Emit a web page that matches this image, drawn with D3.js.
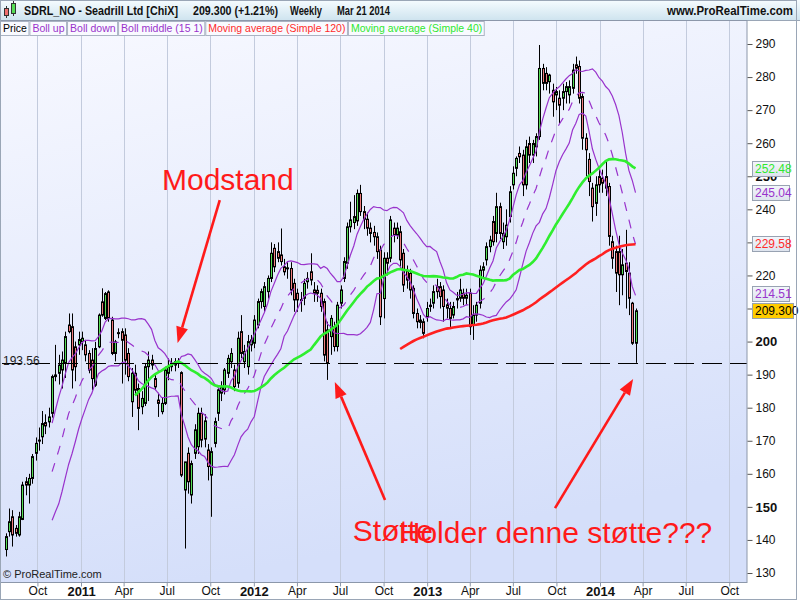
<!DOCTYPE html>
<html>
<head>
<meta charset="utf-8">
<script src="https://cdn.jsdelivr.net/npm/d3@7"></script>
<style>
  body { margin: 0; background: #fff; }
  svg { display: block; font-family: "Liberation Sans", Arial, sans-serif; }
</style>
</head>
<body>
<div id="chart"></div>
<script>
// SDRL_NO weekly candles, week of Jul 26 2010 -> week of Mar 17 2014
const firstWeek = new Date(2010, 6, 26)
const lastWeek = new Date(2014, 2, 17)

const opens = [
  137.1, 142.5, 147, 143.5, 141.5, 146.2, 157.6, 156.6, 158.6, 166.2,
  170, 171.2, 175.5, 175.7, 178.3, 189.4, 190.4, 191.4, 193.4, 205,
  204.5, 198.4, 199, 200, 199, 196.4, 194.4, 186.8, 198.4, 212,
  207, 215, 206.5, 196.4, 202.7, 203, 202, 196.4, 181.8, 190.4,
  185.8, 180.3, 181.3, 192.4, 194.4, 188.8, 182.3, 178.8, 181.3, 190.4,
  193.4, 192.9, 193.9, 190.6, 155.1, 166.2, 153.6, 166.2, 168.2, 178.3,
  170.5, 167.2, 159.6, 169.2, 178.3, 184.4, 185.4, 190.4, 193.9, 191.4,
  187.4, 203, 193.9, 192.4, 199, 199.5, 205, 212.1, 210.6, 215.1,
  219.1, 228.2, 227.2, 226.2, 222.6, 222.1, 222.1, 217.6, 214.6, 212.6,
  213.1, 218.1, 221.1, 215.6, 215.5, 214.6, 212.1, 203.5, 201.5, 204.5,
  198.5, 211.6, 219.1, 223.7, 234.7, 236, 236.5, 244.8, 239.3, 237,
  234.3, 233, 231.7, 227.7, 213, 225.2, 225.2, 234.3, 232.2, 233.2,
  226.7, 221.2, 220.6, 216.1, 208.5, 206.5, 206, 207.5, 210.6, 211.6,
  216.6, 216.6, 215.6, 211.1, 210, 208, 212.6, 213.1, 214.6, 213.1,
  214.6, 205, 208, 211.6, 221.6, 224.7, 228.7, 236.3, 232.7, 240.8,
  230.2, 231.7, 237.8, 247.4, 252.4, 256.9, 256.4, 247.4, 259.9, 256.4,
  258.9, 262, 282.6, 281.1, 278.6, 276, 274.6, 273.6, 273.6, 275.6,
  274.6, 276.6, 283.7, 283.2, 274.1, 261.5, 255.1, 246.4, 241.8, 249.9,
  249.4, 249.9, 246.9, 230.2, 227.2, 227.2, 220.2, 223.7, 220.7, 211.6,
  199.5
]
const highs = [
  142, 149.5, 149, 144.5, 148.5, 157.6, 159, 160, 166, 171,
  174, 179, 178, 180, 190, 199, 196, 197, 203, 208.5,
  208.5, 200, 203, 203, 200.5, 197.4, 198, 199.9, 208.5, 216.1,
  215, 215.5, 207.5, 200.5, 204, 204, 204, 198, 192, 193,
  187.3, 185, 193.4, 197, 196, 190.4, 184.5, 183, 192.4, 194.9,
  195, 195, 195, 191, 163.6, 168, 164, 175, 180, 180,
  178, 169, 168, 177, 186, 188, 192, 196, 198, 193,
  203, 208, 199, 202, 202, 208, 213, 216, 218, 220,
  230, 229.5, 230, 234.2, 225, 224, 224, 219, 216, 215,
  219, 221, 226.7, 218, 217, 216, 213, 206, 208, 206,
  212, 217, 225.5, 236, 242.3, 244.3, 246, 247.4, 241, 239,
  236, 235, 233, 229, 227, 227, 238, 236, 236, 235,
  228, 223, 222, 217, 210, 208, 207, 212, 213, 217,
  219, 218, 217, 213, 212, 212, 215, 219, 216, 216,
  216, 211, 212, 223, 224, 230, 232, 238, 245, 242,
  236, 240, 247, 253, 256, 259, 258, 261, 262, 261,
  263, 289.7, 284, 283, 281, 278, 277, 276, 278, 278.5,
  279, 284, 286.2, 285, 275, 263, 257, 248, 250, 252,
  252, 254.4, 248, 232, 229, 232, 228, 233.8, 224, 212,
  210
]
const lows = [
  135, 141, 138, 141, 141, 146, 153.5, 151, 157, 164,
  167, 169, 172, 174, 177, 188, 187, 185.8, 189, 202.5,
  185.8, 188, 196, 197.4, 194, 190.4, 185.3, 186.3, 198, 207.5,
  206.5, 206, 195.9, 194, 201, 187.3, 190, 188, 177.2, 184,
  173.2, 178, 180.5, 182, 191.5, 185.3, 177.2, 178, 180.8, 188.3,
  191, 191, 192, 159, 137.4, 154, 151, 164.5, 166, 168,
  168, 158, 147, 168, 176, 182, 184, 189, 192, 185,
  186, 195, 192, 190, 197, 198, 204, 210, 209, 213,
  218, 221, 224, 223, 220, 219, 214, 209, 209, 209,
  211, 216, 217, 212, 212, 209, 194, 188.4, 196, 197,
  197, 210, 218, 222, 233, 234, 235, 238, 234, 232,
  230, 229, 225, 205, 207, 220, 224, 230, 231, 222,
  215, 216, 213, 207, 204, 204, 201, 206, 209, 210,
  213, 210, 206, 207, 204, 207, 210, 212, 211, 211,
  202, 200.5, 206, 210, 219, 223, 227, 229, 230, 231,
  228, 229, 236, 246, 250, 254, 244, 246, 254, 254,
  256, 261, 276, 276, 275, 268, 270, 266, 270, 272,
  272, 275, 281, 272, 258, 250, 244, 236.3, 238, 245,
  245, 244, 229, 222, 215, 211, 214, 210, 208, 199,
  193.56
]
const closes = [
  141, 145.5, 141.5, 142, 147, 156.6, 156.6, 158.6, 165.2, 169.2,
  170.2, 175.2, 174.5, 177.2, 189.4, 189.9, 192.9, 194.4, 201.5, 203,
  191.4, 192.4, 200.6, 201, 196, 191.4, 188.8, 197.9, 208, 208,
  214.5, 207, 196.4, 199.9, 202.7, 200.4, 194.4, 189.4, 190.4, 185.3,
  179.8, 182.8, 192.4, 194.4, 192.9, 186.3, 181.3, 181.3, 191.4, 192.4,
  192.4, 193.9, 193.4, 159.6, 163.6, 157.6, 163.1, 173.3, 178.3, 170.2,
  176, 162.2, 166.7, 175.8, 185.4, 186.4, 191.4, 194.9, 196.4, 186.4,
  201, 196.4, 197, 200, 200.5, 206.5, 212.1, 215.1, 216.6, 219.1,
  226.7, 222.6, 225.2, 224.2, 221.1, 222.3, 215.6, 212.6, 212.6, 212.7,
  217.6, 219.1, 218.6, 214.6, 214.6, 210.6, 195.9, 193.4, 207, 198.5,
  211, 215.6, 224.2, 234.7, 236.8, 237.8, 244.8, 239.3, 237, 234.3,
  232.7, 231.7, 227.2, 207.5, 225.2, 223.7, 236.8, 232.2, 234.3, 224.7,
  217.1, 218.6, 215.6, 208.5, 206, 205.8, 202.5, 210, 211, 215.1,
  215.1, 213.6, 210.6, 210.1, 207, 210.6, 213, 215.6, 213.1, 214,
  204.5, 208, 211, 221.6, 222.6, 228.7, 230.7, 230.2, 240.8, 232.7,
  232.7, 235.2, 245.3, 250.9, 255.4, 255.9, 247.4, 258.9, 256.4, 259.9,
  262, 282.6, 278.1, 278.1, 280.6, 272.5, 275.6, 271.5, 275.6, 277.1,
  277.1, 282.1, 282.7, 273.6, 261.5, 258, 248.4, 240.8, 247.4, 247.4,
  247.9, 246.4, 231.8, 225.2, 220.7, 220.2, 223.2, 221.2, 213.1, 199.5,
  209.3
]

const supportLevel = 193.56
const priceTicks = d3.range(130, 291, 10)
// last values shown in the boxes on the right axis
const lastValues = [252.48, 245.04, 229.58, 214.51, 209.3]
const lastLabels = ['252.48', '245.04', '229.58', '214.51', '209.300']
const lastColors = ['#2fe82f', '#9933cc', '#ff2a2a', '#9933cc', '#000']

const legendNames = ['Price', 'Boll up', 'Boll down', 'Boll middle (15 1)', 'Moving average (Simple 120)', 'Moving average (Simple 40)']
const legendColors = ['#000', '#9933cc', '#9933cc', '#9933cc', '#ff2a2a', '#2fe82f']

// red hand drawn notes (date, price)
const arrowTails = [[new Date(2011, 9, 21), 242.8], [new Date(2012, 9, 4), 152.1], [new Date(2013, 8, 28), 149.6]]
const arrowTips = [[new Date(2011, 6, 24), 199.6], [new Date(2012, 5, 20), 187.8], [new Date(2014, 2, 12), 188.7]]
const noteTexts = ['Modstand', 'Støtte', 'Holder denne støtte???']
const notePos = [[new Date(2011, 5, 21), 245.8], [new Date(2012, 6, 28), 139.7], [new Date(2012, 10, 2), 139.1]]

const weeks = d3.timeMonday.range(firstWeek, d3.timeDay.offset(lastWeek, 1))
const candles = weeks.map((d, i) => ({ date: d, o: opens[i], h: highs[i], l: lows[i], c: closes[i] }))

// indicators
function sma(n) {
  return closes.map((c, i) => i < n - 1 ? null : d3.mean(closes.slice(i - n + 1, i + 1)))
}
const mid15 = sma(15)
const sd15 = closes.map((c, i) => {
  if (i < 14) return null
  const w = closes.slice(i - 14, i + 1)
  const m = d3.mean(w)
  return Math.sqrt(d3.mean(w, v => (v - m) * (v - m)))
})
const bollUp = mid15.map((m, i) => m == null ? null : m + sd15[i])
const bollDown = mid15.map((m, i) => m == null ? null : m - sd15[i])
const ma120 = sma(120)
const ma40 = sma(40)

const plotL = 1, plotR = 747, plotT = 21, plotB = 582

const x = d3.scaleTime()
  .domain([new Date(2011, 0, 1), new Date(2014, 0, 1)])
  .range([81, 600])
const y = d3.scaleLinear()
  .domain([130, 290])
  .range([573, 44])

const svg = d3.select('#chart').append('svg')
  .attr('width', 800)
  .attr('height', 600)

const defs = svg.append('defs')
const bg = defs.append('linearGradient').attr('id', 'bg')
  .attr('x1', 0).attr('y1', 0).attr('x2', 0.25).attr('y2', 1)
bg.append('stop').attr('offset', 0).attr('stop-color', '#f8f9ff')
bg.append('stop').attr('offset', 1).attr('stop-color', '#d5dffa')
const hd = defs.append('linearGradient').attr('id', 'hd')
  .attr('x1', 0).attr('y1', 0).attr('x2', 0).attr('y2', 1)
hd.append('stop').attr('offset', 0).attr('stop-color', '#f6fcff')
hd.append('stop').attr('offset', 1).attr('stop-color', '#cfe4ef')
const bx = defs.append('linearGradient').attr('id', 'bx')
  .attr('x1', 0).attr('y1', 0).attr('x2', 0).attr('y2', 1)
bx.append('stop').attr('offset', 0).attr('stop-color', '#f4f6fb')
bx.append('stop').attr('offset', 1).attr('stop-color', '#dde3ee')
defs.append('clipPath').attr('id', 'clip').append('rect')
  .attr('x', plotL).attr('y', plotT).attr('width', plotR - plotL).attr('height', plotB - plotT)

// header
svg.append('rect').attr('x', 0).attr('y', 0).attr('width', 800).attr('height', 20).attr('fill', 'url(#hd)')
svg.append('line').attr('x1', 0).attr('x2', 800).attr('y1', 20.5).attr('y2', 20.5).attr('stroke', '#9aa6b6')
const icon = svg.append('g')
icon.append('line').attr('x1', 6.5).attr('x2', 6.5).attr('y1', 6).attr('y2', 18).attr('stroke', '#333')
icon.append('rect').attr('x', 4.5).attr('y', 8.5).attr('width', 4).attr('height', 7).attr('fill', '#ef6f6f').attr('stroke', '#333')
icon.append('line').attr('x1', 13.5).attr('x2', 13.5).attr('y1', 1).attr('y2', 16).attr('stroke', '#333')
icon.append('rect').attr('x', 11.5).attr('y', 3.5).attr('width', 4).attr('height', 10).attr('fill', '#55dd55').attr('stroke', '#333')

// [text, left, width]
const title = [['SDRL_NO - Seadrill Ltd [ChiX]', 24, 154], ['209.300 (+1.21%)', 193, 85], ['Weekly', 290, 32], ['Mar 21 2014', 337, 53]]
svg.selectAll('text.title').data(title).enter().append('text')
  .attr('x', d => d[1]).attr('y', 15)
  .attr('textLength', d => d[2]).attr('lengthAdjust', 'spacingAndGlyphs')
  .style('font-size', '12px').style('font-weight', 'bold').attr('fill', '#111')
  .text(d => d[0])
svg.append('text').attr('x', 667).attr('y', 15)
  .attr('textLength', 126).attr('lengthAdjust', 'spacingAndGlyphs')
  .style('font-size', '12px').style('font-weight', 'bold').attr('fill', '#111')
  .text('www.ProRealTime.com')

// plot area
svg.append('rect').attr('x', plotL).attr('y', plotT).attr('width', plotR - plotL).attr('height', plotB - plotT)
  .attr('fill', 'url(#bg)')

const monthTicks = d3.timeMonth.every(3).range(new Date(2010, 9, 1), new Date(2014, 10, 1))
svg.append('g').selectAll('line').data(monthTicks).enter().append('line')
  .attr('x1', d => Math.round(x(d)) + 0.5).attr('x2', d => Math.round(x(d)) + 0.5)
  .attr('y1', plotT).attr('y2', plotB)
  .attr('stroke', '#c3cbdd').attr('stroke-width', 1)

const graph = svg.append('g').attr('clip-path', 'url(#clip)')

// candles
graph.append('g').selectAll('line').data(candles).enter().append('line')
  .attr('x1', d => Math.round(x(d.date)) + 0.5)
  .attr('x2', d => Math.round(x(d.date)) + 0.5)
  .attr('y1', d => y(d.h))
  .attr('y2', d => y(d.l))
  .attr('stroke', '#000').attr('stroke-width', 1)
graph.append('g').selectAll('rect').data(candles).enter().append('rect')
  .attr('x', d => Math.round(x(d.date)) - 0.5)
  .attr('width', 2)
  .attr('y', d => y(Math.max(d.o, d.c)))
  .attr('height', d => Math.max(1, Math.abs(y(d.o) - y(d.c))))
  .attr('fill', d => d.c >= d.o ? '#55dd55' : '#ef7d7d')
  .attr('stroke', '#000').attr('stroke-width', 1)

function drawLine(values, color, width, dash) {
  const pts = weeks.map((d, i) => ({ date: d, v: values[i] }))
  const line = d3.line()
    .defined(d => d.v != null)
    .x(d => x(d.date))
    .y(d => y(d.v))
  graph.append('path').datum(pts)
    .attr('d', line)
    .attr('fill', 'none')
    .attr('stroke', color)
    .attr('stroke-width', width)
    .attr('stroke-dasharray', dash)
}
drawLine(bollUp, '#9933cc', 1.2, null)
drawLine(bollDown, '#9933cc', 1.2, null)
drawLine(mid15, '#9933cc', 1.2, '9 9')
drawLine(ma120, '#ff2020', 2.6, null)
drawLine(ma40, '#2fee2f', 2.6, null)

// support line
graph.append('line')
  .attr('x1', plotL + 1).attr('x2', plotR)
  .attr('y1', Math.round(y(supportLevel)) + 0.5).attr('y2', Math.round(y(supportLevel)) + 0.5)
  .attr('stroke', '#000').attr('stroke-width', 1).attr('stroke-dasharray', '20 8')
svg.append('text').attr('x', 3).attr('y', y(supportLevel) + 2)
  .style('font-size', '12px').attr('fill', '#222')
  .text(d3.format('.2f')(supportLevel))

// legend row
let lx = 0
const legend = svg.append('g')
legendNames.forEach((name, i) => {
  const t = legend.append('text').attr('x', lx + 3).attr('y', 32)
    .style('font-size', '10.5px').attr('fill', legendColors[i]).text(name)
  const w = t.node().getComputedTextLength() + 4.5
  legend.insert('rect', 'text').attr('x', lx + 0.5).attr('y', 21.5).attr('width', w).attr('height', 14)
    .attr('fill', '#f9faff').attr('stroke', '#aab3c3')
  lx += w + 1
})

// annotations
const notes = svg.append('g')
arrowTails.forEach((t, i) => {
  const x1 = x(t[0]), y1 = y(t[1])
  const x2 = x(arrowTips[i][0]), y2 = y(arrowTips[i][1])
  const a = Math.atan2(y2 - y1, x2 - x1)
  const len = 16, half = 6
  const bxp = x2 - len * Math.cos(a), byp = y2 - len * Math.sin(a)
  notes.append('line').attr('x1', x1).attr('y1', y1).attr('x2', bxp).attr('y2', byp)
    .attr('stroke', '#ff1a1a').attr('stroke-width', 2.6)
  notes.append('polygon')
    .attr('points', [[x2, y2],
      [bxp + half * Math.sin(a), byp - half * Math.cos(a)],
      [bxp - half * Math.sin(a), byp + half * Math.cos(a)]].map(p => p.join(',')).join(' '))
    .attr('fill', '#ff1a1a')
})
notes.selectAll('text').data(noteTexts).enter().append('text')
  .attr('x', (d, i) => x(notePos[i][0]))
  .attr('y', (d, i) => y(notePos[i][1]))
  .style('font-size', '30px').attr('fill', '#ff1a1a')
  .text(d => d)

// copyright
svg.append('text').attr('x', 3).attr('y', 578).style('font-size', '11px').attr('fill', '#222')
  .text('© ProRealTime.com')

// frames
svg.append('rect').attr('x', plotL - 0.5).attr('y', plotT - 0.5).attr('width', plotR - plotL + 0.5).attr('height', plotB - plotT + 1)
  .attr('fill', 'none').attr('stroke', '#8c97aa')

// right axis (labels sitting under a value box are hidden, like the original)
const hiddenTicks = [210, 230]
const axisR = svg.append('g').attr('transform', `translate(${plotR + 0.5},0)`)
  .call(d3.axisRight(y).tickValues(priceTicks).tickSize(5).tickPadding(3)
    .tickFormat(d => hiddenTicks.includes(d) ? '' : d3.format('d')(d)))
axisR.select('.domain').remove()
axisR.selectAll('line').attr('stroke', '#555')
axisR.selectAll('text')
  .style('font-size', d => d % 50 === 0 ? '13px' : '12px')
  .style('font-weight', d => d % 50 === 0 ? 'bold' : 'normal')
  .attr('fill', '#111')

// bottom axis
const axisB = svg.append('g').attr('transform', `translate(0,${plotB + 0.5})`)
  .call(d3.axisBottom(x).tickValues(monthTicks).tickSize(4).tickPadding(0)
    .tickFormat(d => d.getMonth() === 0 ? d3.timeFormat('%Y')(d) : d3.timeFormat('%b')(d)))
axisB.select('.domain').remove()
axisB.selectAll('line').attr('stroke', '#8c97aa')
axisB.selectAll('text')
  .style('font-size', d => d.getMonth() === 0 ? '13px' : '12px')
  .style('font-weight', d => d.getMonth() === 0 ? 'bold' : 'normal')
  .attr('fill', '#111')

// last value boxes
const boxes = svg.append('g')
lastValues.forEach((v, i) => {
  const cy = y(v)
  const w = i === 4 ? 41 : 37
  boxes.append('rect').attr('x', 752.5).attr('y', Math.round(cy - 7.5) + 0.5).attr('width', w).attr('height', 15)
    .attr('fill', i === 4 ? '#ffcc00' : 'url(#bx)').attr('stroke', '#98a2b2')
  boxes.append('text').attr('x', 755).attr('y', cy + 4.5)
    .style('font-size', '12px').attr('fill', lastColors[i]).text(lastLabels[i])
})

svg.append('rect').attr('x', 0.5).attr('y', 0.5).attr('width', 796).attr('height', 599)
  .attr('fill', 'none').attr('stroke', '#9aa6b6')
</script>
</body>
</html>
